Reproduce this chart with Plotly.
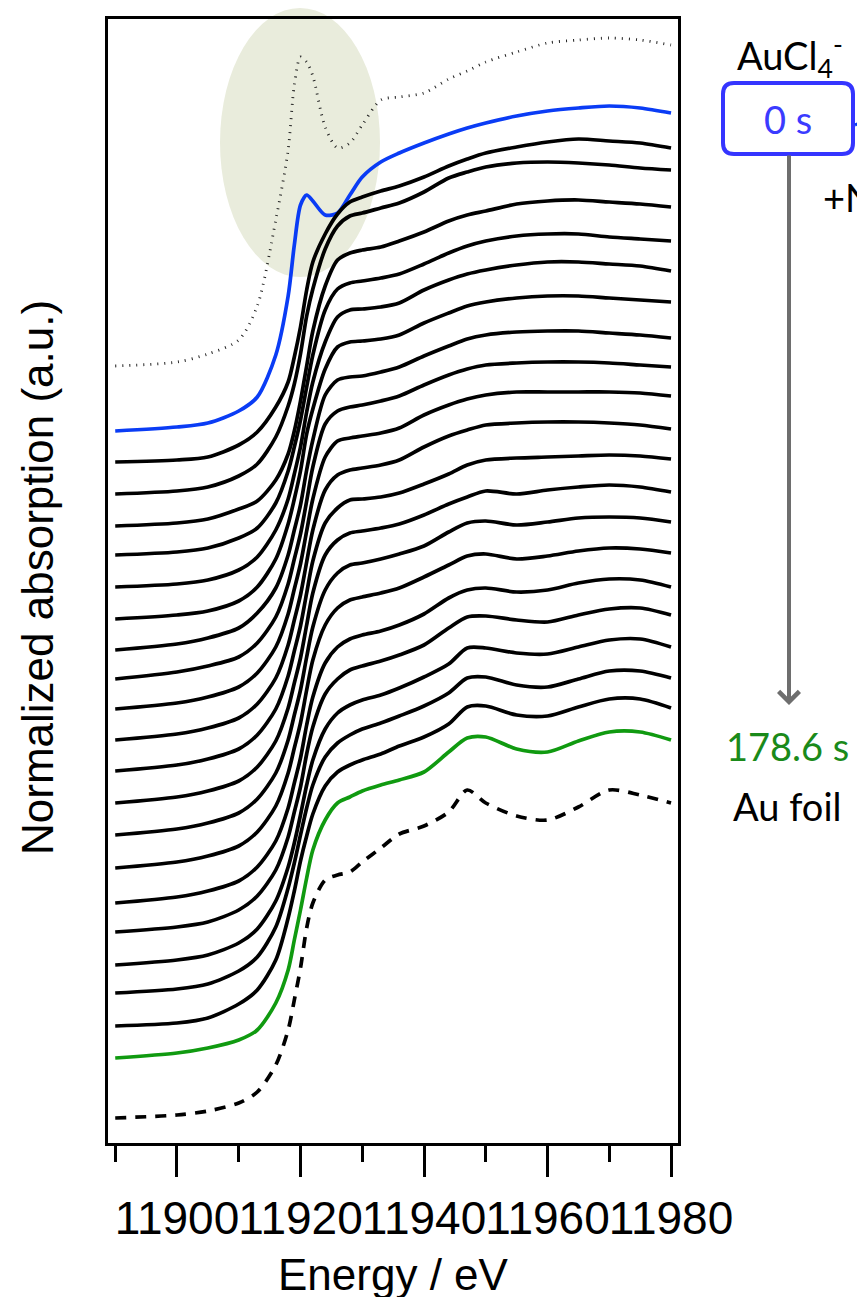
import plotly.graph_objects as go

# ---------------- data (heights above each spectrum's own pre-edge, a.u.) ----------------
energy = [11890, 11900, 11905, 11910, 11913, 11916, 11918, 11919, 11920, 11921, 11922, 11924,
          11926, 11928, 11930, 11933, 11936, 11940, 11944, 11947, 11950, 11955, 11960, 11965,
          11970, 11975, 11980]

ref_aucl4 = [0, 4, 12, 26, 60, 146, 216, 281, 309, 304, 290, 239, 218, 223, 241, 266, 269, 273, 287, 295, 304, 314, 323, 326, 328, 326, 321]
t_000s = [0, 4, 8, 20, 34, 76, 135, 186, 226, 236, 230, 216, 218, 236, 254, 269, 278, 288, 297, 303, 308, 315, 320, 323, 325, 323, 318]
t_01 = [0, 2, 5, 17, 30, 55, 80, 105, 135, 172, 200, 228, 248, 260, 265, 271, 276, 285, 296, 303, 309, 315, 320, 323, 321, 319, 314]
t_02 = [0, 3, 7, 18, 30, 57, 88, 110, 140, 178, 205, 245, 268, 278, 281, 286, 291, 302, 316, 322, 327, 331, 332, 331, 329, 326, 324]
t_03 = [0, 3, 7, 17, 25, 46, 72, 95, 125, 160, 195, 240, 266, 273, 276, 279, 285, 294, 305, 311, 315, 322, 325, 326, 324, 322, 319]
t_04 = [0, 3, 7, 17, 27, 52, 84, 108, 135, 168, 200, 245, 266, 272, 274, 277, 281, 291, 302, 309, 314, 319, 321, 321, 318, 316, 314]
t_05 = [0, 3, 7, 17, 30, 57, 88, 113, 140, 175, 205, 245, 270, 277, 278, 280, 284, 297, 307, 313, 317, 322, 325, 325, 323, 321, 316]
t_06 = [0, 4, 8, 18, 32, 60, 95, 120, 148, 185, 210, 250, 272, 277, 278, 280, 284, 296, 306, 313, 317, 321, 323, 323, 321, 319, 317]
t_07 = [0, 6, 12, 22, 37, 62, 95, 120, 145, 180, 210, 255, 270, 273, 274, 278, 283, 294, 304, 311, 315, 318, 319, 319, 317, 315, 312]
t_08 = [0, 7, 13, 22, 36, 62, 95, 120, 145, 178, 212, 255, 268, 272, 274, 278, 283, 294, 304, 310, 314, 316, 317, 317, 316, 314, 312]
t_09 = [0, 6, 12, 22, 36, 62, 95, 120, 145, 178, 210, 252, 268, 271, 273, 276, 281, 294, 304, 310, 314, 317, 317, 317, 317, 316, 313]
t_10 = [0, 6, 12, 22, 36, 62, 95, 120, 145, 178, 210, 250, 265, 270, 272, 275, 280, 293, 304, 310, 315, 317, 318, 318, 317, 315, 311]
t_11 = [0, 6, 12, 22, 36, 62, 95, 120, 145, 178, 210, 248, 263, 271, 272, 274, 278, 287, 297, 306, 311, 313, 314, 315, 316, 315, 312]
t_12 = [0, 6, 12, 22, 36, 62, 95, 120, 145, 178, 210, 248, 263, 270, 272, 275, 279, 288, 299, 306, 312, 309, 313, 316, 318, 316, 311]
t_13 = [0, 6, 12, 22, 36, 62, 95, 120, 145, 178, 208, 245, 262, 270, 272, 276, 281, 289, 303, 312, 314, 310, 313, 317, 318, 317, 313]
t_14 = [0, 6, 12, 22, 36, 62, 95, 120, 145, 178, 208, 243, 260, 268, 271, 275, 280, 291, 303, 312, 314, 309, 312, 317, 320, 319, 315]
t_15 = [0, 6, 12, 22, 36, 62, 95, 120, 145, 178, 206, 240, 256, 264, 268, 272, 278, 289, 305, 313, 315, 311, 313, 320, 324, 323, 316]
t_16 = [0, 5, 10, 22, 36, 62, 95, 120, 145, 178, 205, 238, 253, 262, 266, 271, 277, 287, 304, 315, 316, 312, 310, 317, 323, 324, 317]
t_17 = [0, 5, 10, 22, 36, 64, 98, 122, 150, 180, 205, 236, 252, 260, 265, 270, 277, 288, 301, 317, 317, 312, 311, 318, 325, 326, 318]
t_18 = [0, 4, 9, 22, 36, 66, 105, 130, 158, 185, 208, 236, 250, 258, 264, 270, 277, 287, 300, 315, 316, 308, 306, 314, 322, 322, 315]
t_19 = [0, 3, 8, 22, 36, 66, 108, 135, 165, 190, 212, 240, 254, 261, 266, 272, 280, 289, 302, 319, 320, 311, 310, 319, 327, 327, 318]
t_178s = [0, 5, 10, 18, 28, 55, 88, 118, 148, 180, 208, 238, 255, 261, 267, 273, 278, 286, 306, 320, 321, 309, 306, 317, 326, 326, 318]
ref_au_foil = [0, 3, 7, 15, 26, 53, 88, 118, 150, 190, 215, 238, 243, 246, 256, 270, 284, 292, 306, 328, 315, 302, 298, 311, 328, 323, 315]

intermediate = [t_01, t_02, t_03, t_04, t_05, t_06, t_07, t_08, t_09, t_10,
                t_11, t_12, t_13, t_14, t_15, t_16, t_17, t_18, t_19]

# vertical stacking offsets (a.u.)
offset_ref_aucl4 = 777
offset_000s = 712
offsets_intermediate = [681, 649, 617, 588, 556, 524, 493, 464, 434, 403,
                        372, 340, 308, 275, 240, 211, 178, 150, 117]
offset_178s = 85
offset_au_foil = 25

x_ticks = [11900, 11920, 11940, 11960, 11980]
x_range = [11888.83, 11981.13]
y_range = [0, 1124]

# ---------------- figure ----------------
W, H = 857, 1297
ML, MR, MT, MB = 108, 179, 19, 154
PW, PH = W - ML - MR, H - MT - MB


def fx(p):
    return (p - ML) / PW


def fy(p):
    return (H - MB - p) / PH


AX_FONT = "Liberation Sans, Arial, sans-serif"
LBL_FONT = "Lato, Carlito, Calibri, sans-serif"
BLUE = "#0a3cf5"
GREEN = "#109a10"

fig = go.Figure()


def add(series, off, color, width, dash="solid"):
    fig.add_trace(go.Scatter(
        x=energy, y=[v + off for v in series], mode="lines",
        line=dict(color=color, width=width, dash=dash, shape="spline", smoothing=0.8),
        showlegend=False, hoverinfo="skip"))


add(ref_aucl4, offset_ref_aucl4, "#222222", 2.8, "1px,6px")
add(t_000s, offset_000s, BLUE, 3.7)
for s, o in zip(intermediate, offsets_intermediate):
    add(s, o, "#000000", 3.7)
add(t_178s, offset_178s, GREEN, 3.7)
add(ref_au_foil, offset_au_foil, "#000000", 3.7, "11px,9px")

# rounded box around "0 s"
x0, x1, y0, y1, r = 723, 853, 83, 154, 11
pts = [
    ("M", [(x0 + r, y0)]), ("L", [(x1 - r, y0)]), ("Q", [(x1, y0), (x1, y0 + r)]),
    ("L", [(x1, y1 - r)]), ("Q", [(x1, y1), (x1 - r, y1)]), ("L", [(x0 + r, y1)]),
    ("Q", [(x0, y1), (x0, y1 - r)]), ("L", [(x0, y0 + r)]), ("Q", [(x0, y0), (x0 + r, y0)]),
]
path = " ".join(c + " " + " ".join(f"{fx(a):.5f},{fy(b):.5f}" for a, b in p) for c, p in pts) + " Z"

shapes = [
    dict(type="circle", xref="paper", yref="paper", x0=fx(220), x1=fx(380), y0=fy(277), y1=fy(8),
         fillcolor="#e9ecdc", line=dict(width=0), layer="below"),
    dict(type="path", xref="paper", yref="paper", path=path,
         line=dict(color="#3535ff", width=4), fillcolor="rgba(0,0,0,0)", layer="above"),
    dict(type="line", xref="paper", yref="paper", x0=fx(855), x1=fx(862), y0=fy(125), y1=fy(122),
         line=dict(color=BLUE, width=3)),
]

annotations = [
    dict(text="Normalized absorption (a.u.)", x=fx(37), y=fy(578), xref="paper", yref="paper",
         textangle=-90, showarrow=False, xanchor="center", yanchor="middle",
         font=dict(family=AX_FONT, size=44, color="black")),
    dict(text="Energy / eV", x=fx(393), y=fy(1274), xref="paper", yref="paper",
         showarrow=False, xanchor="center", yanchor="middle",
         font=dict(family=AX_FONT, size=44, color="black")),
    dict(text="AuCl<sub>4</sub><sup>-</sup>", x=fx(735), y=fy(56), xref="paper", yref="paper",
         showarrow=False, xanchor="left", yanchor="middle",
         font=dict(family=LBL_FONT, size=38, color="black")),
    dict(text="0 s", x=fx(788), y=fy(119), xref="paper", yref="paper",
         showarrow=False, xanchor="center", yanchor="middle",
         font=dict(family=LBL_FONT, size=38, color="#3b3bff")),
    dict(text="+NaBH<sub>4</sub>", x=fx(821), y=fy(200), xref="paper", yref="paper",
         showarrow=False, xanchor="left", yanchor="middle",
         font=dict(family=LBL_FONT, size=38, color="black")),
    dict(text="", x=fx(789), y=fy(705), xref="paper", yref="paper", showarrow=True,
         ax=0, ay=-(705 - 154), axref="pixel", ayref="pixel",
         arrowhead=4, arrowsize=1, arrowwidth=4, arrowcolor="#6e6e6e", standoff=0, startstandoff=0),
    dict(text="178.6 s", x=fx(787), y=fy(746), xref="paper", yref="paper",
         showarrow=False, xanchor="center", yanchor="middle",
         font=dict(family=LBL_FONT, size=38, color="#1a8a1a")),
    dict(text="Au foil", x=fx(787), y=fy(806), xref="paper", yref="paper",
         showarrow=False, xanchor="center", yanchor="middle",
         font=dict(family=LBL_FONT, size=38, color="black")),
]

fig.update_layout(
    width=W, height=H,
    margin=dict(l=ML, r=MR, t=MT, b=MB, pad=0),
    paper_bgcolor="white", plot_bgcolor="rgba(0,0,0,0)",
    shapes=shapes, annotations=annotations,
    xaxis=dict(range=x_range, tickmode="array", tickvals=x_ticks,
               ticktext=[str(v) for v in x_ticks], tickangle=0,
               ticks="outside", ticklen=31, tickwidth=2.5, tickcolor="black",
               showline=True, linewidth=2.5, linecolor="black", mirror=True,
               showgrid=False, zeroline=False, ticklabelstandoff=2,
               tickfont=dict(family=AX_FONT, size=46, color="black"),
               minor=dict(tickmode="linear", tick0=11890, dtick=10, ticks="outside",
                          ticklen=16, tickwidth=2.5, tickcolor="black", showgrid=False)),
    yaxis=dict(range=y_range, showticklabels=False, ticks="", showgrid=False, zeroline=False,
               showline=True, linewidth=2.5, linecolor="black", mirror=True),
)

fig.write_html("out.html")
